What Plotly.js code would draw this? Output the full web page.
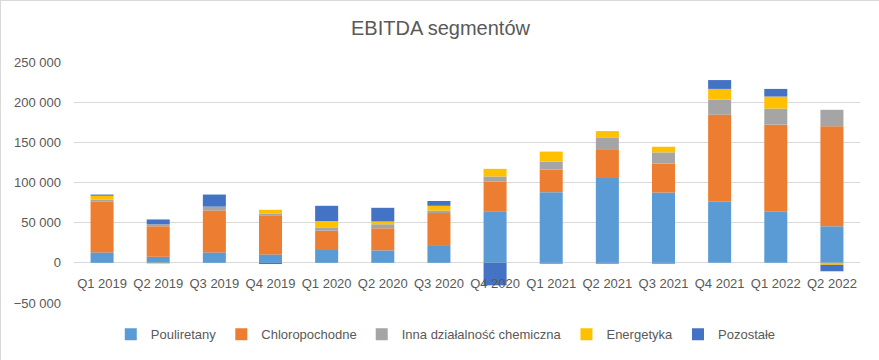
<!DOCTYPE html>
<html>
<head>
<meta charset="utf-8">
<script src="https://cdn.plot.ly/plotly-3.0.1.min.js"></script>
<style>
  html, body { margin: 0; padding: 0; background: #fff; }
  #chart { width: 879px; height: 360px; box-sizing: border-box; border: 1px solid #D9D9D9; }
</style>
</head>
<body>
<div id="chart"></div>
<script>
const categories = ['Q1 2019','Q2 2019','Q3 2019','Q4 2019','Q1 2020','Q2 2020','Q3 2020','Q4 2020','Q1 2021','Q2 2021','Q3 2021','Q4 2021','Q1 2022','Q2 2022'];
const pouliretany    = [13000, 7500, 13000, 10500, 16000, 15500, 21000, 63500, 88000, 105500, 87500, 76000, 63500, 45500];
const chloropochodne = [63000, 38000, 52000, 48000, 24000, 27500, 41000, 37500, 28000, 35000, 36000, 108500, 108500, 124500];
const innaChemiczna  = [2500, 2500, 5000, 2500, 3500, 5000, 3000, 6500, 10000, 15000, 14000, 18500, 20000, 20500];
const energetyka     = [5000, -1000, 0, 5000, 8500, 3500, 6000, 9500, 12500, 8500, 7000, 13500, 15000, -2500];
const pozostale      = [1500, 6000, 15000, -1500, 19000, 17000, 6000, -28000, -1000, -1000, -1000, 11000, 9500, -8000];
const yTicks = [-50000, 0, 50000, 100000, 150000, 200000, 250000];

const series = [
  {name: 'Pouliretany', y: pouliretany, color: '#5B9BD5'},
  {name: 'Chloropochodne', y: chloropochodne, color: '#ED7D31'},
  {name: 'Inna działalność chemiczna', y: innaChemiczna, color: '#A5A5A5'},
  {name: 'Energetyka', y: energetyka, color: '#FFC000'},
  {name: 'Pozostałe', y: pozostale, color: '#4472C4'}
];

const data = series.map(s => ({
  type: 'bar', name: s.name, x: categories, y: s.y,
  marker: {color: s.color}, hoverinfo: 'skip'
}));

const layout = {
  width: 879, height: 360,
  margin: {l: 73, r: 20, t: 61, b: 58},
  paper_bgcolor: '#fff', plot_bgcolor: '#fff',
  font: {family: 'Liberation Sans, Arial, sans-serif', color: '#595959', size: 13},
  separators: ', ',
  title: {text: 'EBITDA segmentów', font: {size: 20, color: '#595959'}, x: 0.5, xanchor: 'center', y: 0.925, yanchor: 'middle', xref: 'container', yref: 'container'},
  barmode: 'relative',
  bargap: 0.59,
  showlegend: true,
  legend: {orientation: 'h', x: 0.473, xanchor: 'center', y: -0.13, yanchor: 'middle', font: {size: 13, color: '#595959'}, traceorder: 'normal'},
  xaxis: {type: 'category', anchor: 'free', position: 1/6, showgrid: false, showline: false, zeroline: false, ticks: '', ticklabelstandoff: 11, tickfont: {size: 13, color: '#595959'}, fixedrange: true},
  yaxis: {range: [-50000, 250000], tickvals: yTicks, tickformat: ',d', showgrid: true, gridcolor: '#D9D9D9', zeroline: true, zerolinecolor: '#D9D9D9', zerolinewidth: 1, showline: false, ticks: '', ticklabelstandoff: 12, tickfont: {size: 13, color: '#595959'}, fixedrange: true}
};

Plotly.newPlot('chart', data, layout, {displayModeBar: false, staticPlot: true});
</script>
</body>
</html>
